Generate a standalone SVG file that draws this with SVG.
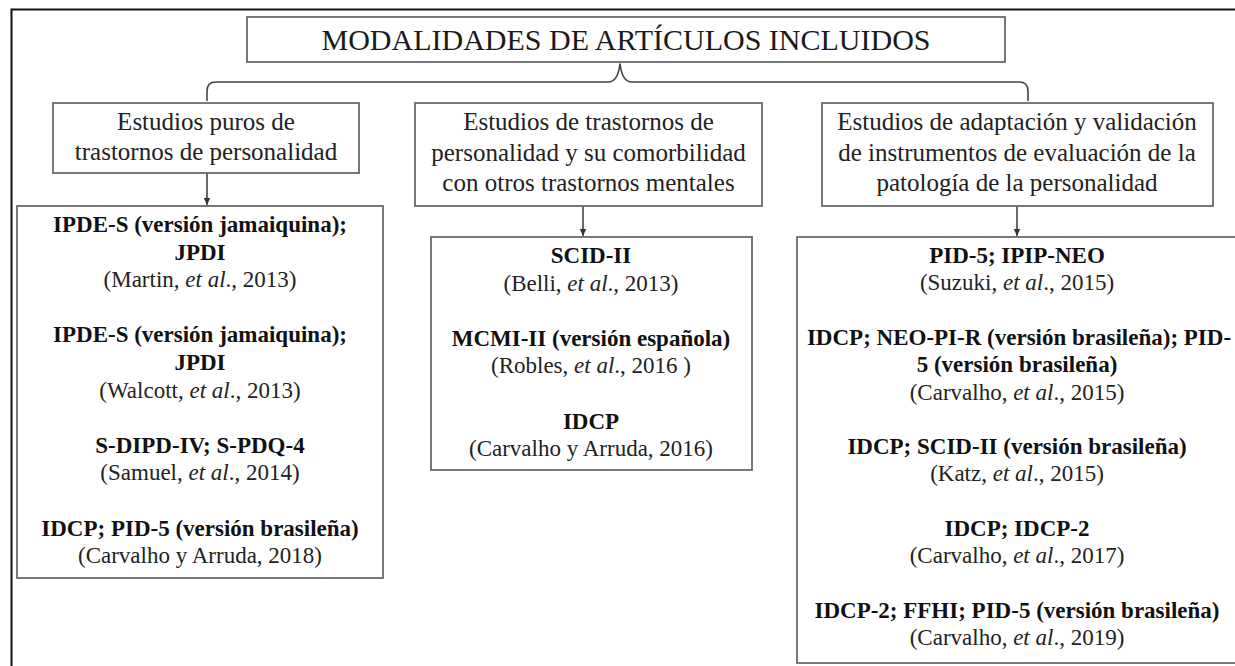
<svg xmlns="http://www.w3.org/2000/svg" width="1235" height="666" viewBox="0 0 1235 666">
<style>
.t{font-family:"Liberation Serif","Times New Roman",serif;text-anchor:middle}
.title{font-size:30px;fill:#1a1a1a}
.hd{font-size:25px;fill:#222}
.b{font-size:23px;font-weight:bold;fill:#111}
.r{font-size:23px;fill:#222}
.i{font-style:italic}
.box{fill:#fff;stroke:#6a6a6a;stroke-width:1.8}
.con{fill:none;stroke:#444;stroke-width:1.6}
</style>
<defs>
<marker id="ah" markerUnits="userSpaceOnUse" markerWidth="8" markerHeight="8" refX="7" refY="4" orient="auto">
<path d="M0,0.8 L7,4 L0,7.2 z" fill="#333"/>
</marker>
</defs>
<rect width="1235" height="666" fill="#fff"/>
<path d="M11.5,666 V9.5 H1235" fill="none" stroke="#111" stroke-width="2"/>

<g id="title">
<rect class="box" x="247" y="17" width="758" height="45"/>
<text class="t title" x="626" y="50">MODALIDADES DE ARTÍCULOS INCLUIDOS</text>
</g>

<g id="connectors">
<path class="con" d="M207,101 V91 Q207,82 216,82 H608 Q618,82 620,63.5 Q622,82 632,82 H1019 Q1028,82 1028,91 V101"/>
<path class="con" d="M207,173 V205" marker-end="url(#ah)"/>
<path class="con" d="M583,206 V236" marker-end="url(#ah)"/>
<path class="con" d="M1017,206 V236" marker-end="url(#ah)"/>
</g>

<g id="h-left">
<rect class="box" x="53" y="103" width="306" height="70"/>
<text class="t hd" x="206" y="130">Estudios puros de</text>
<text class="t hd" x="206" y="160">trastornos de personalidad</text>
</g>

<g id="h-mid">
<rect class="box" x="415" y="103" width="347" height="103"/>
<text class="t hd" x="588.5" y="130">Estudios de trastornos de</text>
<text class="t hd" x="588.5" y="161">personalidad y su comorbilidad</text>
<text class="t hd" x="588.5" y="191">con otros trastornos mentales</text>
</g>

<g id="h-right">
<rect class="box" x="822" y="103" width="391" height="103"/>
<text class="t hd" x="1017" y="130">Estudios de adaptación y validación</text>
<text class="t hd" x="1017" y="161">de instrumentos de evaluación de la</text>
<text class="t hd" x="1017" y="191">patología de la personalidad</text>
</g>

<g id="c-left">
<rect class="box" x="17" y="206" width="366" height="372"/>
<text class="t b" x="200" y="232">IPDE-S (versión jamaiquina);</text>
<text class="t b" x="200" y="259.6">JPDI</text>
<text class="t r" x="200" y="287.2">(Martin, <tspan class="i">et al</tspan>., 2013)</text>
<text class="t b" x="200" y="342.4">IPDE-S (versión jamaiquina);</text>
<text class="t b" x="200" y="370">JPDI</text>
<text class="t r" x="200" y="397.6">(Walcott, <tspan class="i">et al</tspan>., 2013)</text>
<text class="t b" x="200" y="452.8">S-DIPD-IV; S-PDQ-4</text>
<text class="t r" x="200" y="480.4">(Samuel, <tspan class="i">et al</tspan>., 2014)</text>
<text class="t b" x="200" y="535.6">IDCP; PID-5 (versión brasileña)</text>
<text class="t r" x="200" y="563.2">(Carvalho y Arruda, 2018)</text>
</g>

<g id="c-mid">
<rect class="box" x="431" y="237" width="321" height="233"/>
<text class="t b" x="591" y="263">SCID-II</text>
<text class="t r" x="591" y="290.6">(Belli, <tspan class="i">et al</tspan>., 2013)</text>
<text class="t b" x="591" y="345.8">MCMI-II (versión española)</text>
<text class="t r" x="591" y="373.4">(Robles, <tspan class="i">et al</tspan>., 2016 )</text>
<text class="t b" x="591" y="428.6">IDCP</text>
<text class="t r" x="591" y="456.2">(Carvalho y Arruda, 2016)</text>
</g>

<g id="c-right">
<rect class="box" x="797" y="237" width="445" height="426"/>
<text class="t b" x="1017" y="263">PID-5; IPIP-NEO</text>
<text class="t r" x="1017" y="290.3">(Suzuki, <tspan class="i">et al</tspan>., 2015)</text>
<text class="t b" x="1019" y="344.9">IDCP; NEO-PI-R (versión brasileña); PID-</text>
<text class="t b" x="1017" y="372.2">5 (versión brasileña)</text>
<text class="t r" x="1017" y="399.5">(Carvalho, <tspan class="i">et al</tspan>., 2015)</text>
<text class="t b" x="1017" y="454.1">IDCP; SCID-II (versión brasileña)</text>
<text class="t r" x="1017" y="481.4">(Katz, <tspan class="i">et al</tspan>., 2015)</text>
<text class="t b" x="1017" y="536">IDCP; IDCP-2</text>
<text class="t r" x="1017" y="563.3">(Carvalho, <tspan class="i">et al</tspan>., 2017)</text>
<text class="t b" x="1017" y="617.9">IDCP-2; FFHI; PID-5 (versión brasileña)</text>
<text class="t r" x="1017" y="645.2">(Carvalho, <tspan class="i">et al</tspan>., 2019)</text>
</g>
</svg>
